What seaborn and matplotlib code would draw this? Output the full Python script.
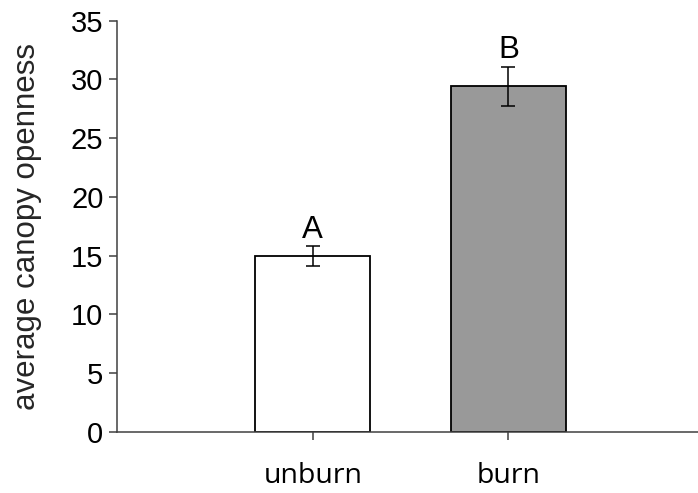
import matplotlib
matplotlib.use("Agg")
import matplotlib.pyplot as plt
import seaborn as sns
import pandas as pd

# Mean canopy openness per treatment, with standard errors and group letters
treatments = ["unburn", "burn"]
mean_openness = [14.95, 29.4]
std_error = [0.85, 1.7]
group_letters = ["A", "B"]
bar_colors = ["#ffffff", "#999999"]

sns.set_style("white")
plt.rcParams["font.family"] = ["Liberation Sans", "DejaVu Sans"]
plt.rcParams["text.color"] = "black"
plt.rcParams["xtick.color"] = "black"
plt.rcParams["ytick.color"] = "black"

df = pd.DataFrame({"treatment": treatments, "openness": mean_openness})

fig = plt.figure(figsize=(6.98, 4.93), dpi=100)
ax = fig.add_axes([0.168, 0.124, 0.832, 0.834])

sns.barplot(data=df, x="treatment", y="openness", hue="treatment",
            palette=bar_colors, edgecolor="black", linewidth=1.3,
            width=0.59, legend=False, ax=ax)

ax.errorbar(range(len(treatments)), mean_openness, yerr=std_error,
            fmt="none", ecolor="black", elinewidth=1.1, capsize=5, capthick=1.1)

for i, (m, e, lab) in enumerate(zip(mean_openness, std_error, group_letters)):
    ax.text(i, m + e + 0.72, lab, ha="center", va="baseline", fontsize=22.5)

ax.set_xlim(-1.0, 1.97)
ax.set_ylim(0, 35)
ax.set_yticks(range(0, 36, 5))
ax.set_xlabel("")
ax.set_ylabel("average canopy openness", fontsize=22.5)
ax.yaxis.set_label_coords(-0.13, 0.50)

for side in ["top", "right"]:
    ax.spines[side].set_visible(False)
for side in ["left", "bottom"]:
    ax.spines[side].set_color("#404040")
    ax.spines[side].set_linewidth(1.1)

ax.tick_params(axis="y", direction="out", length=6, width=1.1, color="#404040",
               labelsize=21, left=True, pad=4)
ax.tick_params(axis="x", direction="out", length=6, width=1.1, color="#404040",
               labelsize=20.5, bottom=True, pad=16)
for lbl in ax.get_xticklabels():
    lbl.set_fontfamily(["Open Sans", "DejaVu Sans"])

fig.savefig("out.png", dpi=100)
